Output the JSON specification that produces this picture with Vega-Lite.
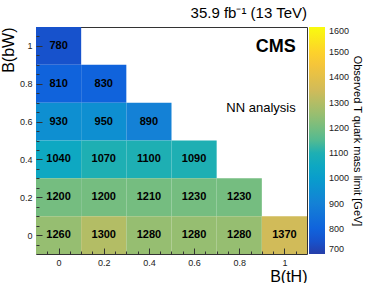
{
  "$schema": "https://vega.github.io/schema/vega-lite/v6.json",
  "autosize": {"type": "none"},
  "padding": {"left": 36, "top": 27, "right": 59, "bottom": 29},
  "width": 271,
  "height": 227,
  "background": "white",
  "title": {"text": "35.9 fb⁻¹ (13 TeV)", "anchor": "end", "frame": "group", "fontSize": 15, "fontWeight": "normal", "font": "Liberation Sans", "color": "#000", "offset": 6},
  "config": {
    "view": {"stroke": "#333", "strokeWidth": 1},
    "font": "Liberation Sans",
    "axis": {"grid": false, "domain": false, "labelFont": "Liberation Sans", "labelFontSize": 9, "labelColor": "#222", "tickColor": "#333", "tickWidth": 1, "titleFont": "Liberation Sans", "titleFontWeight": "normal", "titleFontSize": 16, "titleColor": "#000"}
  },
  "data": {"values": [
    {"tH": 0.0, "bW": 1.0, "v": 780},
    {"tH": 0.0, "bW": 0.8, "v": 810},
    {"tH": 0.2, "bW": 0.8, "v": 830},
    {"tH": 0.0, "bW": 0.6, "v": 930},
    {"tH": 0.2, "bW": 0.6, "v": 950},
    {"tH": 0.4, "bW": 0.6, "v": 890},
    {"tH": 0.0, "bW": 0.4, "v": 1040},
    {"tH": 0.2, "bW": 0.4, "v": 1070},
    {"tH": 0.4, "bW": 0.4, "v": 1100},
    {"tH": 0.6, "bW": 0.4, "v": 1090},
    {"tH": 0.0, "bW": 0.2, "v": 1200},
    {"tH": 0.2, "bW": 0.2, "v": 1200},
    {"tH": 0.4, "bW": 0.2, "v": 1210},
    {"tH": 0.6, "bW": 0.2, "v": 1230},
    {"tH": 0.8, "bW": 0.2, "v": 1230},
    {"tH": 0.0, "bW": 0.0, "v": 1260},
    {"tH": 0.2, "bW": 0.0, "v": 1300},
    {"tH": 0.4, "bW": 0.0, "v": 1280},
    {"tH": 0.6, "bW": 0.0, "v": 1280},
    {"tH": 0.8, "bW": 0.0, "v": 1280},
    {"tH": 1.0, "bW": 0.0, "v": 1370}
  ]},
  "transform": [
    {"calculate": "datum.tH - 0.1", "as": "x0"},
    {"calculate": "datum.tH + 0.1", "as": "x1"},
    {"calculate": "datum.bW - 0.1", "as": "y0"},
    {"calculate": "datum.bW + 0.1", "as": "y1"}
  ],
  "resolve": {"axis": {"x": "independent", "y": "independent"}},
  "layer": [
    {
      "mark": {"type": "rect", "strokeWidth": 0},
      "encoding": {
        "x": {"field": "x0", "type": "quantitative", "title": null,
          "scale": {"domain": [-0.1, 1.1], "nice": false, "zero": false},
          "axis": {"orient": "bottom", "zindex": 1, "values": [-0.05, 0.05, 0.1, 0.15, 0.25, 0.3, 0.35, 0.45, 0.5, 0.55, 0.65, 0.7, 0.75, 0.85, 0.9, 0.95, 1.05],
            "labels": false, "tickSize": -3}},
        "x2": {"field": "x1"},
        "y": {"field": "y0", "type": "quantitative", "title": null,
          "scale": {"domain": [-0.1, 1.1], "nice": false, "zero": false},
          "axis": {"orient": "left", "zindex": 1, "values": [-0.05, 0.05, 0.1, 0.15, 0.25, 0.3, 0.35, 0.45, 0.5, 0.55, 0.65, 0.7, 0.75, 0.85, 0.9, 0.95, 1.05],
            "labels": false, "tickSize": -3}},
        "y2": {"field": "y1"},
        "color": {"field": "v", "type": "quantitative",
          "scale": {"type": "linear", "nice": false, "zero": false, "interpolate": "rgb",
            "domain": [700, 744.99, 745, 789.99, 790, 834.99, 835, 879.99, 880, 924.99, 925, 969.99, 970, 1014.99, 1015, 1059.99, 1060, 1104.99, 1105, 1149.99, 1150, 1194.99, 1195, 1239.99, 1240, 1284.99, 1285, 1329.99, 1330, 1374.99, 1375, 1419.99, 1420, 1464.99, 1465, 1509.99, 1510, 1554.99, 1555, 1600],
            "range": ["#263ea9", "#263ea9", "#1752cc", "#1752cc", "#1063dc", "#1063dc", "#1272d9", "#1272d9", "#1481d6", "#1481d6", "#0e8fd1", "#0e8fd1", "#099dcc", "#099dcc", "#0ea8c2", "#0ea8c2", "#1eafb3", "#1eafb3", "#2eb7a4", "#2eb7a4", "#52ba92", "#52ba92", "#75bd80", "#75bd80", "#96be71", "#96be71", "#b3bd65", "#b3bd65", "#d1bb59", "#d1bb59", "#e3c049", "#e3c049", "#f5c53a", "#f5c53a", "#fdd22b", "#fdd22b", "#fbe71c", "#fbe71c", "#f9fb0e", "#f9fb0e"]},
          "legend": {"type": "gradient", "orient": "right", "offset": 2, "padding": 0, "direction": "vertical",
            "gradientLength": 227, "gradientThickness": 16, "gradientStrokeWidth": 0,
            "values": [700, 800, 900, 1000, 1100, 1200, 1300, 1400, 1500, 1600], "format": "d",
            "labelFontSize": 9, "labelFont": "Liberation Sans", "labelColor": "#222", "labelOffset": 4, "labelOverlap": false, "labelFlush": false,
            "title": "Observed T quark mass limit [GeV]", "titleOrient": "right", "titleAngle": 270, "titleAnchor": "middle",
            "titleFontSize": 11, "titleFontWeight": "normal", "titleFont": "Liberation Sans", "titleColor": "#000", "titlePadding": 3}}
      }
    },
    {
      "mark": {"type": "text", "fontSize": 11, "fontWeight": "bold", "font": "Liberation Sans", "color": "#000"},
      "encoding": {
        "x": {"field": "tH", "type": "quantitative", "title": "B(tH)",
          "axis": {"orient": "bottom", "zindex": 1, "values": [0, 0.2, 0.4, 0.6, 0.8, 1], "format": ".1~f", "tickSize": -6,
            "labelPadding": 10, "titleAnchor": "end", "titlePadding": 1, "labelFlush": false, "labelOverlap": false}},
        "y": {"field": "bW", "type": "quantitative", "title": "B(bW)",
          "axis": {"orient": "left", "zindex": 1, "values": [0, 0.2, 0.4, 0.6, 0.8, 1], "format": ".1~f", "tickSize": -6,
            "labelPadding": 10, "titleAnchor": "end", "titlePadding": 3, "labelFlush": false, "labelOverlap": false}},
        "text": {"field": "v", "type": "quantitative"}
      }
    },
    {
      "data": {"values": [{"tx": 1.05, "ty": 0.995, "t": "CMS"}]},
      "mark": {"type": "text", "align": "right", "baseline": "middle", "fontSize": 18, "fontWeight": "bold", "font": "Liberation Sans", "color": "#000"},
      "encoding": {
        "x": {"field": "tx", "type": "quantitative", "axis": null},
        "y": {"field": "ty", "type": "quantitative", "axis": null},
        "text": {"field": "t"}
      }
    },
    {
      "data": {"values": [{"tx": 1.05, "ty": 0.672, "t": "NN analysis"}]},
      "mark": {"type": "text", "align": "right", "baseline": "middle", "fontSize": 13, "font": "Liberation Sans", "color": "#000"},
      "encoding": {
        "x": {"field": "tx", "type": "quantitative", "axis": null},
        "y": {"field": "ty", "type": "quantitative", "axis": null},
        "text": {"field": "t"}
      }
    }
  ]
}
